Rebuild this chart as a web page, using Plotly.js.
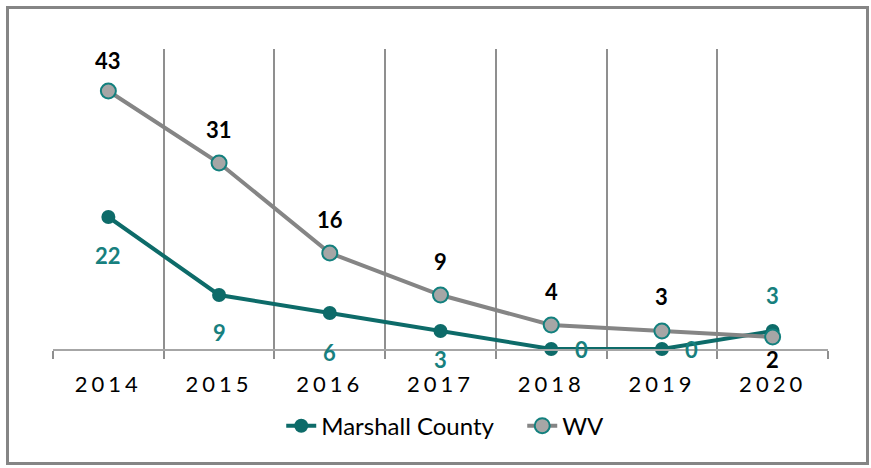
<!DOCTYPE html>
<html>
<head>
<meta charset="utf-8">
<script src="https://cdn.plot.ly/plotly-3.0.1.min.js"></script>
<style>
  html, body { margin: 0; padding: 0; background: #fff; }
  #wrap { position: relative; width: 871px; height: 468px; }
  #chart { position: absolute; left: 0; top: 0; width: 871px; height: 468px; }
  #frame { position: absolute; left: 6px; top: 6px; width: 857px; height: 453px;
           border: 3px solid #858585; pointer-events: none; }
  .xtick text { letter-spacing: 4px; }
</style>
</head>
<body>
<div id="wrap">
  <div id="chart"></div>
  <div id="frame"></div>
</div>
<script>
// ---- data ----
const years = ['2014', '2015', '2016', '2017', '2018', '2019', '2020'];
const marshall = [22, 9, 6, 3, 0, 0, 3];
const wv = [43, 31, 16, 9, 4, 3, 2];
const seriesNames = ['Marshall County', 'WV'];

// ---- styles ----
const teal = '#0d6b69';
const tealLabel = '#17807e';
const gray = '#858585';
const fam = 'Lato, "Open Sans", sans-serif';

// label offsets in px (style only)
const wvShiftY = [31, 34, 34, 34, 34, 35, -22];
const wvShiftX = [0, 0, 0, 0, 0, 0, 0];
const mcShiftY = [-38, -37, -39, -28, 0, 0, 36];
const mcShiftX = [0, 0, 0, 0, 30, 30, 0];

const traces = [
  {
    x: years, y: marshall, name: seriesNames[0], type: 'scatter', mode: 'lines+markers',
    line: { color: teal, width: 4 },
    marker: { color: teal, size: 14, line: { color: teal, width: 0 } },
    cliponaxis: false
  },
  {
    x: years, y: wv, name: seriesNames[1], type: 'scatter', mode: 'lines+markers',
    line: { color: gray, width: 4 },
    marker: { color: '#a6a6a6', size: 15, line: { color: '#13807e', width: 2 } },
    cliponaxis: false
  }
];

const annotations = [];
years.forEach((yr, i) => {
  // category axis: position by category index
  annotations.push({
    x: i, y: wv[i], xref: 'x', yref: 'y', text: '<b>' + wv[i] + '</b>', showarrow: false,
    xshift: wvShiftX[i], yshift: wvShiftY[i],
    font: { family: fam, size: 22, color: '#000' }
  });
  annotations.push({
    x: i, y: marshall[i], xref: 'x', yref: 'y', text: '<b>' + marshall[i] + '</b>', showarrow: false,
    xshift: mcShiftX[i], yshift: mcShiftY[i],
    font: { family: fam, size: 22, color: tealLabel }
  });
});

const layout = {
  width: 871, height: 468,
  margin: { l: 53, r: 43, t: 49, b: 119 },
  paper_bgcolor: '#fff', plot_bgcolor: '#fff',
  showlegend: true,
  legend: {
    orientation: 'h', x: 0.2945, xanchor: 'left', y: -0.257, yanchor: 'middle',
    font: { family: fam, size: 24, color: '#000' },
    itemwidth: 30, entrywidth: 196, entrywidthmode: 'pixels'
  },
  xaxis: {
    type: 'category', range: [-0.5, 6.5], tickson: 'boundaries',
    showgrid: true, gridcolor: '#8f8f8f', gridwidth: 2,
    ticks: 'outside', ticklen: 8, tickcolor: '#8f8f8f', tickwidth: 2,
    showline: true, linecolor: '#a6a6a6', linewidth: 2,
    tickfont: { family: fam, size: 22, color: '#000' },
    ticklabelstandoff: 15,
    zeroline: false, fixedrange: true
  },
  yaxis: {
    range: [0, 50], showgrid: false, showticklabels: false, zeroline: false,
    showline: false, ticks: '', fixedrange: true
  },
  annotations: annotations
};

Plotly.newPlot('chart', traces, layout, { displayModeBar: false, staticPlot: true });
</script>
</body>
</html>
